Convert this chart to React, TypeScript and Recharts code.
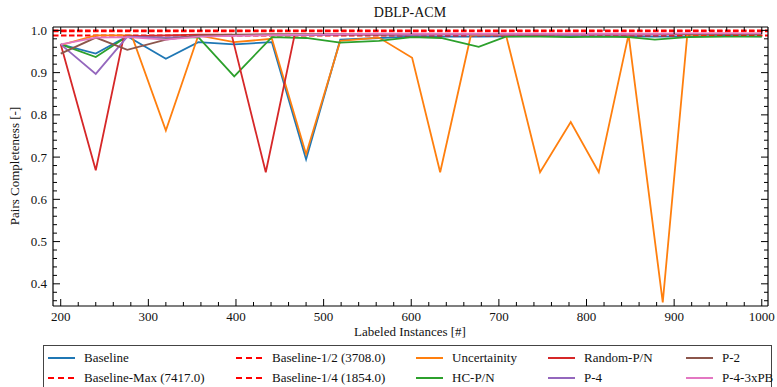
import { LineChart, Line, XAxis, YAxis, ReferenceLine } from "recharts";

// labeled instances per query step (each strategy logs its own steps)
const stepsCommon = [200, 240, 276, 320, 357, 398, 441, 480, 519, 563, 601, 634, 677, 708, 747, 782, 814, 848, 878, 915, 958, 1000];
const stepsUncertainty = [200, 240, 281, 320, 357, 398, 441, 480, 519, 563, 601, 633, 668, 708, 747, 782, 814, 848, 887, 915, 958, 1000];
const stepsRandom = [200, 240, 272, 320, 357, 395, 434, 467, 519, 563, 601, 634, 677, 708, 747, 782, 814, 848, 878, 915, 958, 1000];

const baseline = [0.967, 0.945, 0.986, 0.933, 0.972, 0.967, 0.972, 0.695, 0.978, 0.982, 0.985, 0.985, 0.985, 0.986, 0.987, 0.986, 0.986, 0.986, 0.985, 0.986, 0.987, 0.986];
const uncertainty = [0.965, 0.988, 0.988, 0.763, 0.988, 0.972, 0.98, 0.707, 0.975, 0.983, 0.935, 0.664, 0.988, 0.99, 0.664, 0.783, 0.664, 0.99, 0.356, 0.99, 0.991, 0.992];
const hcPN = [0.967, 0.937, 0.986, 0.982, 0.984, 0.891, 0.984, 0.982, 0.971, 0.975, 0.984, 0.982, 0.961, 0.985, 0.985, 0.984, 0.985, 0.984, 0.978, 0.984, 0.985, 0.985];
const randomPN = [0.967, 0.669, 0.986, 0.988, 0.99, 0.99, 0.664, 0.99, 0.99, 0.991, 0.99, 0.991, 0.991, 0.99, 0.991, 0.991, 0.991, 0.99, 0.991, 0.991, 0.992, 0.991];
const p4 = [0.967, 0.897, 0.985, 0.983, 0.986, 0.988, 0.989, 0.989, 0.99, 0.99, 0.989, 0.99, 0.99, 0.99, 0.99, 0.989, 0.99, 0.99, 0.99, 0.991, 0.991, 0.991];
const p2 = [0.945, 0.983, 0.954, 0.978, 0.988, 0.99, 0.991, 0.991, 0.991, 0.99, 0.991, 0.991, 0.991, 0.991, 0.99, 0.991, 0.991, 0.991, 0.991, 0.991, 0.991, 0.991];
const p43PB = [0.967, 0.983, 0.984, 0.978, 0.985, 0.987, 0.989, 0.99, 0.991, 0.992, 0.992, 0.992, 0.992, 0.992, 0.992, 0.992, 0.992, 0.992, 0.992, 0.993, 0.993, 0.993];

// horizontal baselines
const baselineMax = 1.0;
const baselineHalf = 0.998;
const baselineQuarter = 0.988;

const xMajor = [200, 300, 400, 500, 600, 700, 800, 900, 1000];

const xTicks: number[] = [];
for (let v = 200; v <= 1000; v += 20) xTicks.push(v);
const yTicks: number[] = [];
for (let v = 36; v <= 100; v += 2) yTicks.push(v / 100);

const FONT = "Liberation Serif, DejaVu Serif, serif";

const toPoints = (xs: number[], ys: number[]) => xs.map((x, i) => ({ x, y: ys[i] }));

const series = [
  { name: "Baseline", color: "#1f77b4", data: toPoints(stepsCommon, baseline) },
  { name: "Uncertainity", color: "#ff7f0e", data: toPoints(stepsUncertainty, uncertainty) },
  { name: "HC-P/N", color: "#2ca02c", data: toPoints(stepsCommon, hcPN) },
  { name: "Random-P/N", color: "#d62728", data: toPoints(stepsRandom, randomPN) },
  { name: "P-4", color: "#9467bd", data: toPoints(stepsCommon, p4) },
  { name: "P-2", color: "#8c564b", data: toPoints(stepsCommon, p2) },
  { name: "P-4-3xPB", color: "#e377c2", data: toPoints(stepsCommon, p43PB) },
];

const legendCols = [
  [{ name: "Baseline", color: "#1f77b4", dashed: false }, { name: "Baseline-Max (7417.0)", color: "#ff0000", dashed: true }],
  [{ name: "Baseline-1/2 (3708.0)", color: "#ff0000", dashed: true }, { name: "Baseline-1/4 (1854.0)", color: "#ff0000", dashed: true }],
  [{ name: "Uncertainity", color: "#ff7f0e", dashed: false }, { name: "HC-P/N", color: "#2ca02c", dashed: false }],
  [{ name: "Random-P/N", color: "#d62728", dashed: false }, { name: "P-4", color: "#9467bd", dashed: false }],
  [{ name: "P-2", color: "#8c564b", dashed: false }, { name: "P-4-3xPB", color: "#e377c2", dashed: false }],
];
const legendLeft = [4, 192, 372, 504, 642];

const isMajor = (v: number, step: number) => Math.abs(v / step - Math.round(v / step)) < 1e-6;

const BottomTick = (props: any) => {
  const { x, y, payload } = props;
  const major = xMajor.includes(payload.value);
  return (
    <g>
      <line x1={x} x2={x} y1={y} y2={y - (major ? 7 : 4)} stroke="#000" strokeWidth={1} />
      {major && (
        <text x={x} y={y + 15} textAnchor="middle" fontFamily={FONT} fontSize={13} fill="#111">
          {payload.value}
        </text>
      )}
    </g>
  );
};

const TopTick = (props: any) => {
  const { x, y, payload } = props;
  const major = xMajor.includes(payload.value);
  return <line x1={x} x2={x} y1={y} y2={y + (major ? 7 : 4)} stroke="#000" strokeWidth={1} />;
};

const LeftTick = (props: any) => {
  const { x, y, payload } = props;
  const major = isMajor(payload.value, 0.1);
  return (
    <g>
      <line x1={x} x2={x + (major ? 7 : 4)} y1={y} y2={y} stroke="#000" strokeWidth={1} />
      {major && (
        <text x={x - 6} y={y + 4.5} textAnchor="end" fontFamily={FONT} fontSize={13} fill="#111">
          {payload.value.toFixed(1)}
        </text>
      )}
    </g>
  );
};

const RightTick = (props: any) => {
  const { x, y, payload } = props;
  const major = isMajor(payload.value, 0.1);
  return <line x1={x} x2={x - (major ? 7 : 4)} y1={y} y2={y} stroke="#000" strokeWidth={1} />;
};

export default function App() {
  return (
    <div style={{ position: "absolute", left: 0, top: 0, width: 777, height: 387, background: "#fff", overflow: "hidden" }}>
      <LineChart width={777} height={387} margin={{ top: 26, right: 8, bottom: 51, left: 0 }}>
        <XAxis
          xAxisId={0}
          type="number"
          dataKey="x"
          domain={[191.2, 1007.1]}
          ticks={xTicks}
          interval={0}
          tickSize={0}
          tickMargin={0}
          tickLine={false}
          tick={<BottomTick />}
          axisLine={{ stroke: "#000", strokeWidth: 1.2 }}
          height={30}
          allowDataOverflow
        />
        <XAxis
          xAxisId="top"
          orientation="top"
          type="number"
          dataKey="x"
          domain={[191.2, 1007.1]}
          ticks={xTicks}
          interval={0}
          tickSize={0}
          tickMargin={0}
          tickLine={false}
          tick={<TopTick />}
          axisLine={{ stroke: "#000", strokeWidth: 1.2 }}
          height={1}
          allowDataOverflow
        />
        <YAxis
          yAxisId={0}
          type="number"
          domain={[0.3475, 1.008]}
          ticks={yTicks}
          interval={0}
          tickSize={0}
          tickMargin={0}
          tickLine={false}
          tick={<LeftTick />}
          axisLine={{ stroke: "#000", strokeWidth: 1.2 }}
          width={53}
          allowDataOverflow
        />
        <YAxis
          yAxisId="right"
          orientation="right"
          type="number"
          domain={[0.3475, 1.008]}
          ticks={yTicks}
          interval={0}
          tickSize={0}
          tickMargin={0}
          tickLine={false}
          tick={<RightTick />}
          axisLine={{ stroke: "#000", strokeWidth: 1.2 }}
          width={1}
          allowDataOverflow
        />
        {series.slice(0, 1).map((s) => (
          <Line key={s.name} data={s.data} dataKey="y" name={s.name} type="linear" stroke={s.color} strokeWidth={1.8} dot={false} isAnimationActive={false} />
        ))}
        <ReferenceLine y={baselineMax} stroke="#ff0000" strokeWidth={2} strokeDasharray="5.5 2.5" />
        <ReferenceLine y={baselineHalf} stroke="#ff0000" strokeWidth={2} strokeDasharray="5.5 2.5" />
        <ReferenceLine y={baselineQuarter} stroke="#ff0000" strokeWidth={2} strokeDasharray="5.5 2.5" />
        {series.slice(1).map((s) => (
          <Line key={s.name} data={s.data} dataKey="y" name={s.name} type="linear" stroke={s.color} strokeWidth={1.8} dot={false} isAnimationActive={false} />
        ))}
        <text x={410} y={17} textAnchor="middle" fontFamily={FONT} fontSize={14} fill="#111">DBLP-ACM</text>
        <text x={410} y={336} textAnchor="middle" fontFamily={FONT} fontSize={13} fill="#111">Labeled Instances [#]</text>
        <text x={19} y={166} textAnchor="middle" fontFamily={FONT} fontSize={13} fill="#111" transform="rotate(-90 19 166)">Pairs Completeness [-]</text>
      </LineChart>
      <div style={{ position: "absolute", left: 43, top: 345, width: 729, height: 60, border: "1px solid #444", boxSizing: "border-box", fontFamily: FONT, fontSize: 13, color: "#111" }}>
        {legendCols.map((col, ci) =>
          col.map((item, ri) => (
            <div key={item.name} style={{ position: "absolute", left: legendLeft[ci], top: 3 + ri * 20, height: 18, display: "flex", alignItems: "center", whiteSpace: "nowrap" }}>
              <svg width={27} height={4} style={{ marginRight: 9 }}>
                <line x1={0} x2={27} y1={2} y2={2} stroke={item.color} strokeWidth={2} strokeDasharray={item.dashed ? "6 4" : undefined} />
              </svg>
              <span>{item.name}</span>
            </div>
          ))
        )}
      </div>
    </div>
  );
}
